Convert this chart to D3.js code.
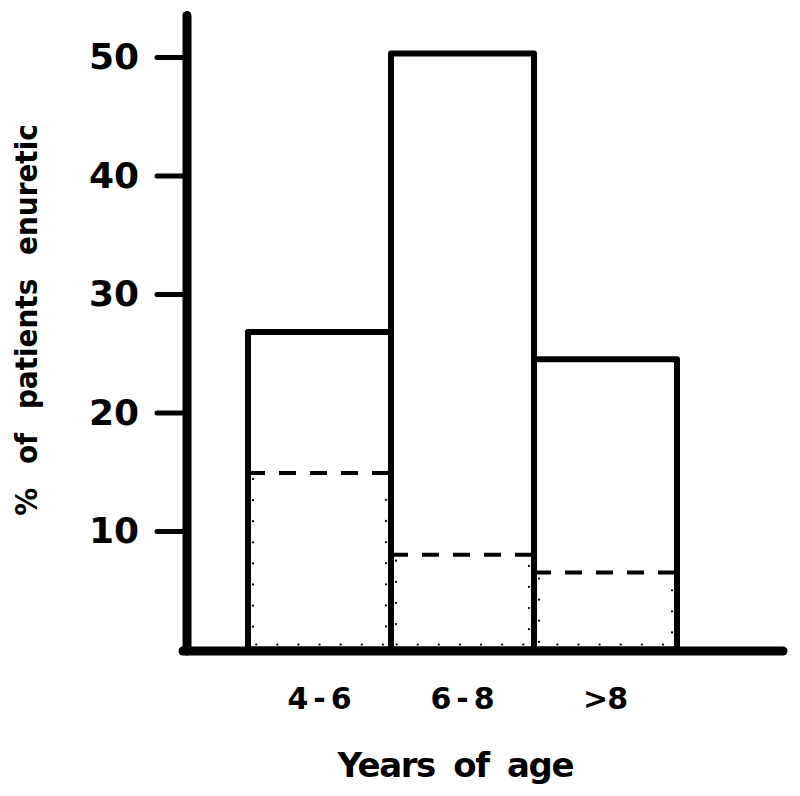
<!DOCTYPE html>
<html>
<head>
<meta charset="utf-8">
<script src="https://cdn.jsdelivr.net/npm/d3@7"></script>
<style>
  html, body { margin: 0; padding: 0; background: #fff; }
  svg { display: block; }
</style>
</head>
<body>
<svg id="chart" width="800" height="796"></svg>
<script>
// ---- data ----
const categories = ["4-6", "6-8", ">8"];
const totalValues = [26.8, 50.3, 24.5];     // solid bars: % of patients enuretic
const dashedValues = [14.9, 8.0, 6.5];      // dashed sub-level inside each bar
const yTicks = [10, 20, 30, 40, 50];
const xTitle = "Years of age";
const yTitle = "% of patients enuretic";

// ---- layout ----
const svg = d3.select("#chart");
const W = 800, H = 796;
svg.append("rect").attr("width", W).attr("height", H).attr("fill", "#fff");

const y = d3.scaleLinear().domain([0, 50]).range([649.5, 57]);
const x = d3.scaleBand().domain(categories).range([248, 677]).paddingInner(0).paddingOuter(0);

const font = "'DejaVu Sans', 'Liberation Sans', sans-serif";
const condFont = "'DejaVu Sans Condensed', 'DejaVu Sans', sans-serif";

// bars
const g = svg.append("g");
categories.forEach((c, i) => {
  const x0 = x(c), x1 = x(c) + x.bandwidth();
  // dotted inner outline of the lower portion
  g.append("path")
    .attr("d", `M${x0 + 5},${y(dashedValues[i]) + 6} V${y(0) - 5} H${x1 - 5} V${y(dashedValues[i]) + 6}`)
    .attr("fill", "none").attr("stroke", "#000")
    .attr("stroke-width", 2.2).attr("stroke-linecap", "round")
    .attr("stroke-dasharray", "0.1 21");
  // dashed level
  g.append("line")
    .attr("x1", x0).attr("x2", x1)
    .attr("y1", y(dashedValues[i])).attr("y2", y(dashedValues[i]))
    .attr("stroke", "#000").attr("stroke-width", 4)
    .attr("stroke-dasharray", "17 14");
});
categories.forEach((c, i) => {
  g.append("rect")
    .attr("x", x(c)).attr("y", y(totalValues[i]))
    .attr("width", x.bandwidth()).attr("height", y(0) - y(totalValues[i]))
    .attr("fill", "none").attr("stroke", "#000").attr("stroke-width", 6)
    .attr("stroke-linejoin", "round");
});

// y axis with ticks
const yAxis = d3.axisLeft(y).tickValues(yTicks).tickSize(30).tickPadding(18).tickSizeOuter(0);
const ya = svg.append("g").attr("transform", "translate(187,0)").call(yAxis);
ya.select(".domain").remove();
ya.selectAll(".tick line").attr("stroke", "#000").attr("stroke-width", 5).attr("stroke-linecap", "round");
ya.selectAll(".tick text")
  .attr("fill", "#000").attr("font-family", font).attr("font-weight", "bold")
  .attr("font-size", 36);

// axis lines
svg.append("line")
  .attr("x1", 187).attr("x2", 187).attr("y1", y(0) + 1.5).attr("y2", y(53.5))
  .attr("stroke", "#000").attr("stroke-width", 9).attr("stroke-linecap", "round");
svg.append("line")
  .attr("x1", 183).attr("x2", 783).attr("y1", 651).attr("y2", 651)
  .attr("stroke", "#000").attr("stroke-width", 9).attr("stroke-linecap", "round");

// x category labels
const xAxis = d3.axisBottom(x).tickSize(0).tickPadding(0);
const xa = svg.append("g").attr("transform", "translate(0,651)").call(xAxis);
xa.select(".domain").remove();
const labelWidths = {"4-6": 64, "6-8": 64, ">8": 45};
xa.selectAll(".tick text")
  .attr("fill", "#000").attr("font-family", font).attr("font-weight", "bold")
  .attr("font-size", 30).attr("dy", null).attr("y", 58)
  .attr("textLength", d => labelWidths[d]).attr("lengthAdjust", "spacing");

// axis titles
svg.append("text")
  .attr("x", 456).attr("y", 777).attr("text-anchor", "middle")
  .attr("font-family", font).attr("font-weight", "bold").attr("font-size", 34)
  .attr("fill", "#000").attr("textLength", 237).attr("lengthAdjust", "spacing")
  .style("word-spacing", "8px")
  .text(xTitle);

svg.append("text")
  .attr("transform", "translate(37,320) rotate(-90)")
  .attr("text-anchor", "middle")
  .attr("font-family", condFont).attr("font-weight", "bold").attr("font-size", 31)
  .attr("fill", "#000")
  .style("word-spacing", "14px")
  .text(yTitle);
</script>
</body>
</html>
